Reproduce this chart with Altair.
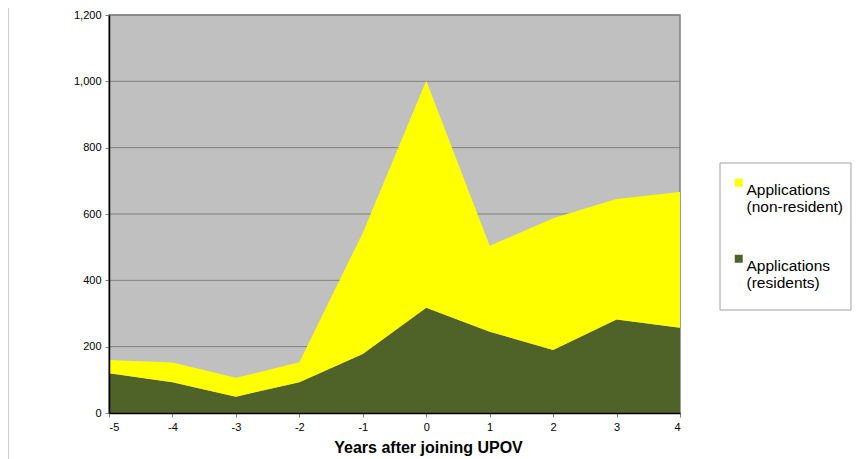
import altair as alt
import pandas as pd

years = [-5, -4, -3, -2, -1, 0, 1, 2, 3, 4]
residents = [120, 93, 49, 93, 178, 317, 245, 190, 282, 257]
non_resident = [40, 59, 57, 60, 365, 685, 259, 397, 363, 409]
series_names = ["Applications (non-resident)", "Applications (residents)"]
series_colors = ["#FFFF00", "#4F6228"]
y_ticks = [0, 200, 400, 600, 800, 1000, 1200]

rows = []
for i, yr in enumerate(years):
    rows.append({"year": yr, "series": series_names[1], "value": residents[i], "ord": 0})
    rows.append({"year": yr, "series": series_names[0], "value": non_resident[i], "ord": 1})
df = pd.DataFrame(rows)
grid_df = pd.DataFrame({"g": y_ticks[1:]})

FONT = "Liberation Sans"

yscale = alt.Scale(domain=[0, 1200], nice=False)

grid = alt.Chart(grid_df).mark_rule(color="#808080", strokeWidth=1).encode(
    y=alt.Y("g:Q", scale=yscale)
)

area = alt.Chart(df).mark_area(opacity=1, line=False).encode(
    x=alt.X("year:Q",
            scale=alt.Scale(domain=[-5, 4], nice=False, zero=False),
            axis=alt.Axis(values=years, labelExpr="'' + datum.value", title="Years after joining UPOV",
                          grid=False, zindex=1, domainColor="#000000", domainWidth=1.5,
                          tickColor="#808080", tickSize=4, labelFontSize=11,
                          labelFont=FONT, labelColor="#000000", labelPadding=4,
                          titleFont=FONT, titleFontSize=16, titleFontWeight="bold",
                          titleColor="#000000", titleX=319, titleY=39,
                          titleBaseline="alphabetic", titleAlign="center")),
    y=alt.Y("value:Q", stack="zero", scale=yscale,
            axis=alt.Axis(values=y_ticks, format=",d", title=None,
                          grid=False, zindex=1,
                          domainColor="#000000", domainWidth=1.5,
                          tickColor="#808080", tickSize=4, labelFontSize=11,
                          labelFont=FONT, labelColor="#000000", labelPadding=4)),
    color=alt.Color("series:N",
                    scale=alt.Scale(domain=series_names, range=series_colors),
                    legend=alt.Legend(title=None, orient="none", legendX=622, legendY=160,
                                      padding=0, symbolType="square", symbolSize=64,
                                      symbolStrokeWidth=0, symbolOpacity=1,
                                      labelFont=FONT, labelFontSize=15.5,
                                      labelColor="#000000", labelOffset=0,
                                      labelBaseline="top", rowPadding=35,
                                      labelLimit=200,
                                      labelExpr="[slice(datum.label,0,12), slice(datum.label,13)]")),
    order=alt.Order("ord:Q", sort="ascending"),
)

legend_box = alt.Chart(pd.DataFrame({"k": [0]})).mark_rect(
    fill="#FFFFFF", stroke="#A0A0A0", strokeWidth=1
).encode(
    x=alt.value(611), x2=alt.value(742), y=alt.value(148), y2=alt.value(295)
)

border = alt.Chart(pd.DataFrame({"k": [0]})).mark_rule(color="#A0A0A0", strokeWidth=1).encode(
    x=alt.value(-101), y=alt.value(-15), y2=alt.value(444)
)

chart = alt.layer(grid, area, legend_box, border).properties(
    width=571, height=398,
    background="#FFFFFF",
    autosize=alt.AutoSizeParams(type="none"),
    padding={"left": 101, "top": 7, "right": 172, "bottom": 46},
).configure_view(fill="#C0C0C0", stroke="#808080", strokeWidth=1.5)

chart.save("out.html", embed_options={"renderer": "svg", "actions": False})
